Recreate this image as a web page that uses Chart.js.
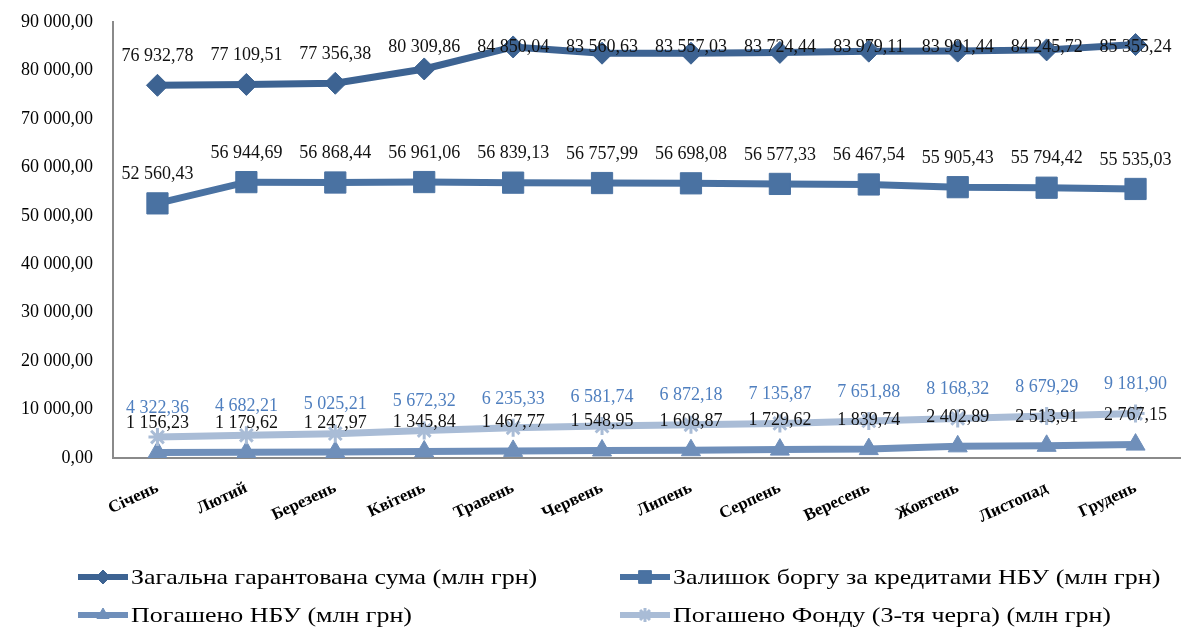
<!DOCTYPE html>
<html>
<head>
<meta charset="utf-8">
<script src="https://cdn.jsdelivr.net/npm/chart.js@4.4.1/dist/chart.umd.min.js"></script>
<style>
html,body{margin:0;padding:0;background:#fff;}
#wrap{width:1196px;height:631px;position:relative;}
</style>
</head>
<body>
<div id="wrap"><canvas id="c" width="1196" height="631"></canvas></div>
<script>
const months = ['Січень','Лютий','Березень','Квітень','Травень','Червень','Липень','Серпень','Вересень','Жовтень','Листопад','Грудень'];
const seriesNames = ['Загальна гарантована сума (млн грн)','Залишок боргу за кредитами НБУ (млн грн)','Погашено НБУ (млн грн)','Погашено Фонду (3-тя черга) (млн грн)'];
const totalGuaranteed = [76932.78, 77109.51, 77356.38, 80309.86, 84850.04, 83560.63, 83557.03, 83724.44, 83979.11, 83991.44, 84245.72, 85355.24];
const nbuDebt = [52560.43, 56944.69, 56868.44, 56961.06, 56839.13, 56757.99, 56698.08, 56577.33, 56467.54, 55905.43, 55794.42, 55535.03];
const repaidNbu = [1156.23, 1179.62, 1247.97, 1345.84, 1467.77, 1548.95, 1608.87, 1729.62, 1839.74, 2402.89, 2513.91, 2767.15];
const repaidFund = [4322.36, 4682.21, 5025.21, 5672.32, 6235.33, 6581.74, 6872.18, 7135.87, 7651.88, 8168.32, 8679.29, 9181.90];
const yTicks = [0,10000,20000,30000,40000,50000,60000,70000,80000,90000];

const FONT = '"Liberation Serif", "Times New Roman", serif';
function fmt(v){
  const s = v.toFixed(2).split('.');
  const int = s[0].replace(/\B(?=(\d{3})+(?!\d))/g,' ');
  return int + ',' + s[1];
}

const colors = ['#3d6392','#4a72a2','#6f8fba','#a9bcd6'];
const styles = ['rectRot','rect','triangle','star'];
const radii = [11,15,11,9];
const labelColors = ['#111','#111','#111','#4f7fbf'];

const dataLabels = {
  id:'dataLabels',
  afterDatasetsDraw(chart){
    const ctx = chart.ctx;
    const top = chart.chartArea.top;
    ctx.save();
    ctx.font = '18px ' + FONT;
    ctx.textAlign = 'center';
    ctx.textBaseline = 'middle';
    chart.data.datasets.forEach((ds,i)=>{
      const meta = chart.getDatasetMeta(i);
      ctx.fillStyle = labelColors[i];
      meta.data.forEach((pt,j)=>{
        let y = pt.y - 29;
        if (i===0) y = Math.max(y, top + 25);
        ctx.fillText(fmt(ds.data[j]), pt.x, y);
      });
    });
    ctx.restore();
  }
};

const customLegend = {
  id:'customLegend',
  afterDraw(chart){
    const ctx = chart.ctx;
    const pos = [[78,577],[620,577],[78,615],[620,615]];
    ctx.save();
    chart.data.datasets.forEach((ds,i)=>{
      const [x,y] = pos[i];
      ctx.strokeStyle = colors[i];
      ctx.lineWidth = 6;
      ctx.beginPath(); ctx.moveTo(x,y); ctx.lineTo(x+50,y); ctx.stroke();
      ctx.fillStyle = colors[i];
      ctx.strokeStyle = colors[i];
      const bw = i===3 ? 3 : 1;
      ctx.lineWidth = bw;
      Chart.helpers.drawPoint(ctx,{pointStyle:styles[i],rotation:0,borderWidth:bw,radius:i===1?9:7},x+25,y);
      ctx.fillStyle = '#000';
      ctx.font = '22px ' + FONT;
      ctx.textAlign = 'left';
      ctx.textBaseline = 'middle';
      ctx.save();
      ctx.translate(x+53, y+1);
      ctx.scale(1.18, 1);
      ctx.fillText(ds.label, 0, 0);
      ctx.restore();
    });
    ctx.restore();
  }
};

const datasets = [totalGuaranteed, nbuDebt, repaidNbu, repaidFund].map((d,i)=>({
  label: seriesNames[i],
  data: d,
  borderColor: colors[i],
  backgroundColor: colors[i],
  borderWidth: 7,
  pointStyle: styles[i],
  pointRadius: radii[i],
  pointBorderWidth: i===3 ? 3 : 1,
  pointBackgroundColor: colors[i],
  pointBorderColor: colors[i],
  tension: 0,
  fill: false
}));
datasets.forEach((d,i)=>{ d.order = 3 - i; });

new Chart(document.getElementById('c'), {
  type:'line',
  data:{ labels: months, datasets },
  plugins:[dataLabels, customLegend],
  options:{
    responsive:false,
    animation:false,
    layout:{ padding:{ top:22, right:0, left:0, bottom:0 } },
    plugins:{ legend:{display:false}, tooltip:{enabled:false} },
    scales:{
      x:{
        offset:true,
        grid:{ display:false, drawTicks:false },
        border:{ display:true, color:'#8a8a8a', width:2 },
        ticks:{ color:'#000', font:{ family:FONT, size:17, weight:'bold' }, minRotation:25, maxRotation:25, padding:20, autoSkip:false },
        afterFit(s){ s.height = 173; }
      },
      y:{
        min:0, max:90000,
        grid:{ display:false, drawTicks:false },
        border:{ display:true, color:'#8a8a8a', width:2 },
        afterBuildTicks(s){ s.ticks = yTicks.map(v=>({value:v})); },
        ticks:{ color:'#000', font:{ family:FONT, size:18 }, padding:20, callback:v=>fmt(v) },
        afterFit(s){ s.width = 113; s.paddingTop = 0; s.paddingBottom = 0; }
      }
    }
  }
});
</script>
</body>
</html>
